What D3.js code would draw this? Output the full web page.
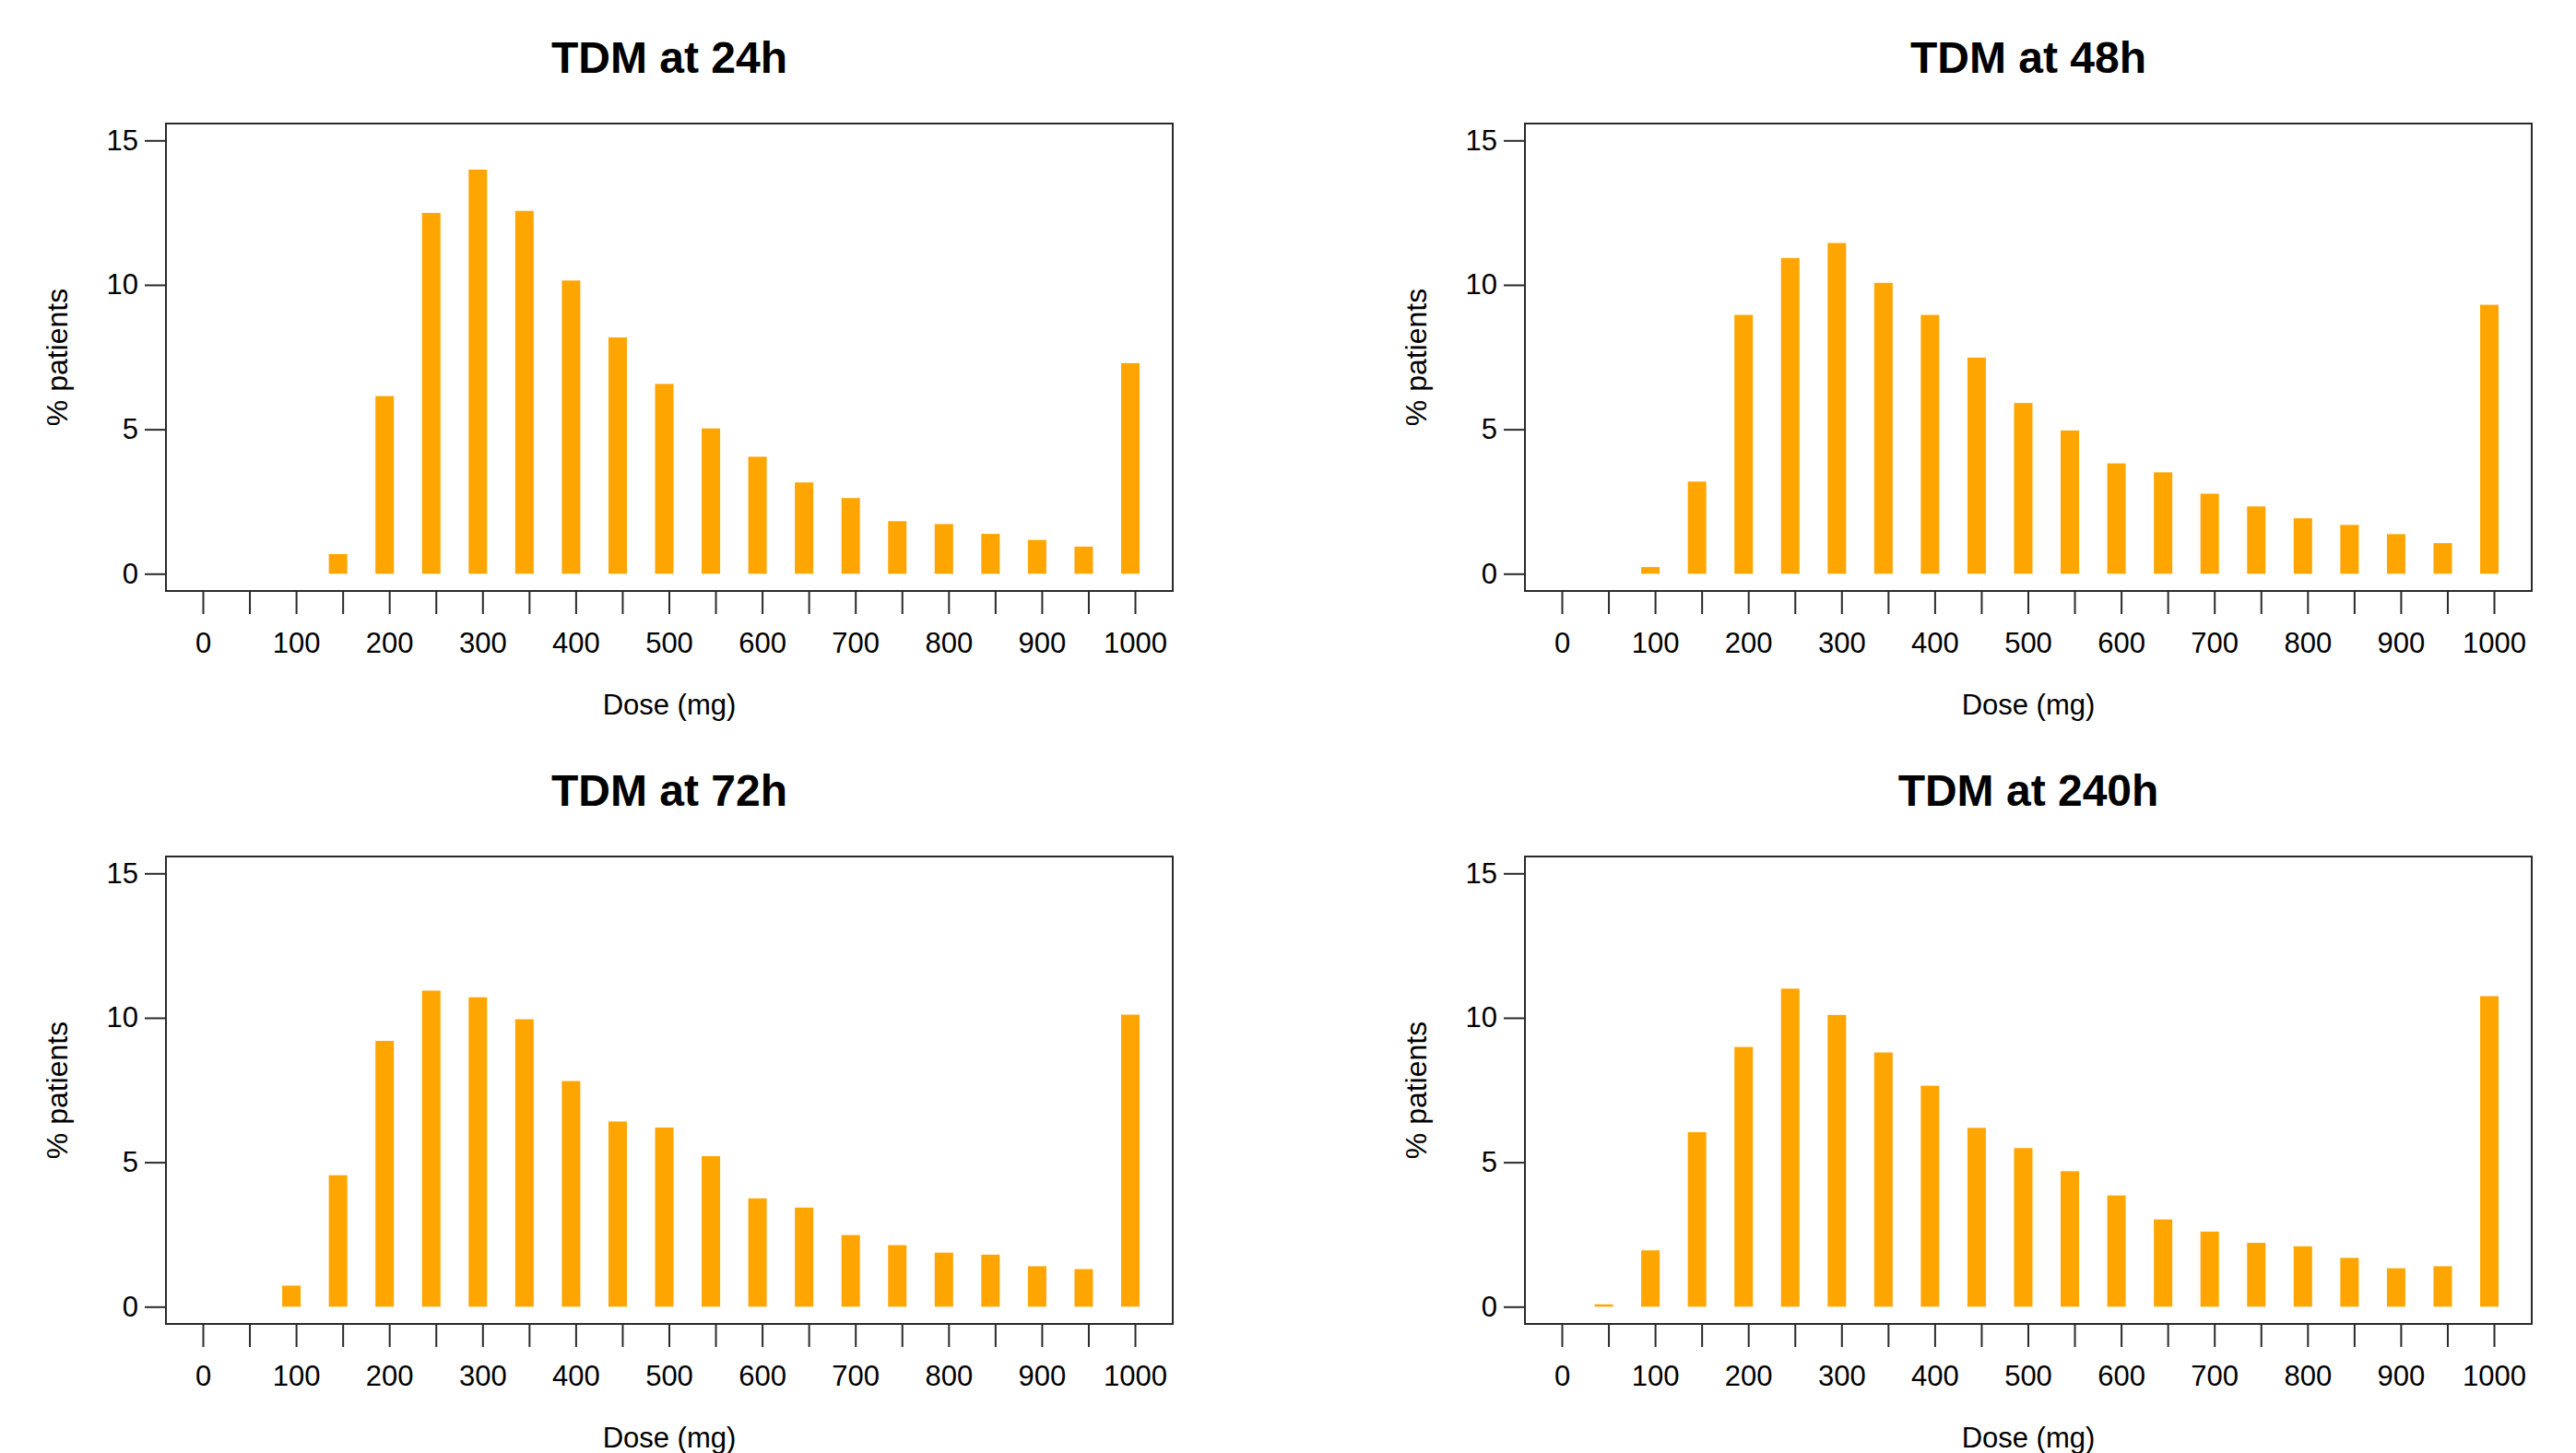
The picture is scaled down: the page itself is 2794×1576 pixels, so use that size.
<!DOCTYPE html>
<html>
<head>
<meta charset="utf-8">
<script src="https://cdn.jsdelivr.net/npm/d3@7"></script>
<style>
  body { margin: 0; background: #fff; }
  text { font-family: "Liberation Sans", Arial, sans-serif; fill: #000; }
</style>
</head>
<body>
<script>
// dose bins (mg)
const doses = [0, 50, 100, 150, 200, 250, 300, 350, 400, 450, 500,
               550, 600, 650, 700, 750, 800, 850, 900, 950, 1000];

// % patients at each dose
const pct24h = [0, 0, 0, 0.68, 6.15, 12.49, 13.99, 12.56, 10.15, 8.18, 6.57,
                5.03, 4.05, 3.16, 2.62, 1.82, 1.72, 1.38, 1.17, 0.94, 7.29];
const pct48h = [0, 0, 0.23, 3.19, 8.96, 10.93, 11.45, 10.07, 8.96, 7.48, 5.91,
                4.96, 3.82, 3.51, 2.77, 2.33, 1.92, 1.69, 1.37, 1.06, 9.31];
const pct72h = [0, 0, 0.73, 4.55, 9.20, 10.94, 10.71, 9.95, 7.81, 6.41, 6.20,
                5.21, 3.75, 3.43, 2.48, 2.13, 1.87, 1.80, 1.40, 1.30, 10.11];
const pct240h = [0, 0.08, 1.95, 6.04, 8.99, 11.01, 10.10, 8.80, 7.65, 6.19, 5.49,
                 4.69, 3.85, 3.02, 2.60, 2.21, 2.09, 1.69, 1.33, 1.40, 10.75];

const titles = ["TDM at 24h", "TDM at 48h", "TDM at 72h", "TDM at 240h"];
const yTicks = [0, 5, 10, 15];
const xTicks = [0, 50, 100, 150, 200, 250, 300, 350, 400, 450, 500,
                550, 600, 650, 700, 750, 800, 850, 900, 950, 1000];

const width = 2794;
const height = 1576;

const svg = d3.select("body")
  .append("svg")
  .attr("width", width)
  .attr("height", height);

// panel box (relative to panel origin)
const box = {left: 180, right: 1272, top: 134, bottom: 641};

const x = d3.scaleLinear().domain([0, 1000]).range([220, 1231]);
const y = d3.scaleLinear().domain([0, 15]).range([622.3, 152.3]);

function drawPanel(values, title, ox, oy) {
  const g = svg.append("g").attr("transform", `translate(${ox},${oy})`);

  const data = doses.map((d, i) => ({dose: d, pct: values[i]})).filter(d => d.pct > 0);

  g.selectAll("rect.bar")
    .data(data)
    .enter()
    .append("rect")
    .attr("class", "bar")
    .attr("x", d => x(d.dose) - 15)
    .attr("width", 20)
    .attr("y", d => y(d.pct))
    .attr("height", d => y(0) - y(d.pct))
    .style("fill", "#FFA500");

  // plot frame
  g.append("rect")
    .attr("x", box.left)
    .attr("y", box.top)
    .attr("width", box.right - box.left)
    .attr("height", box.bottom - box.top)
    .style("fill", "none")
    .style("stroke", "#2a2a2a")
    .style("stroke-width", 2);

  // y axis
  const yAxis = g.append("g")
    .attr("transform", `translate(${box.left},0)`)
    .call(d3.axisLeft(y).tickValues(yTicks).tickSize(23).tickPadding(7).tickFormat(d3.format("d")));
  yAxis.select(".domain").remove();

  // x axis
  const xAxis = g.append("g")
    .attr("transform", `translate(0,${box.bottom})`)
    .call(d3.axisBottom(x).tickValues(xTicks).tickSize(25).tickPadding(20)
      .tickFormat(d => d % 100 === 0 ? d : ""));
  xAxis.select(".domain").remove();

  [yAxis, xAxis].forEach(a => {
    a.attr("font-size", null).attr("font-family", null);
    a.selectAll("line").style("stroke", "#2a2a2a").style("stroke-width", 2);
    a.selectAll("text").style("font-size", "31px").style("fill", "#000");
  });

  const cx = (box.left + box.right) / 2;

  g.append("text")
    .attr("x", cx)
    .attr("y", 79)
    .attr("text-anchor", "middle")
    .style("font-size", "48px")
    .style("font-weight", "bold")
    .text(title);

  g.append("text")
    .attr("x", cx)
    .attr("y", 775)
    .attr("text-anchor", "middle")
    .style("font-size", "31px")
    .text("Dose (mg)");

  g.append("text")
    .attr("transform", `translate(73,${(box.top + box.bottom) / 2}) rotate(-90)`)
    .attr("text-anchor", "middle")
    .style("font-size", "32px")
    .text("% patients");
}

drawPanel(pct24h, titles[0], 0, 0);
drawPanel(pct48h, titles[1], 1474, 0);
drawPanel(pct72h, titles[2], 0, 795);
drawPanel(pct240h, titles[3], 1474, 795);
</script>
</body>
</html>
